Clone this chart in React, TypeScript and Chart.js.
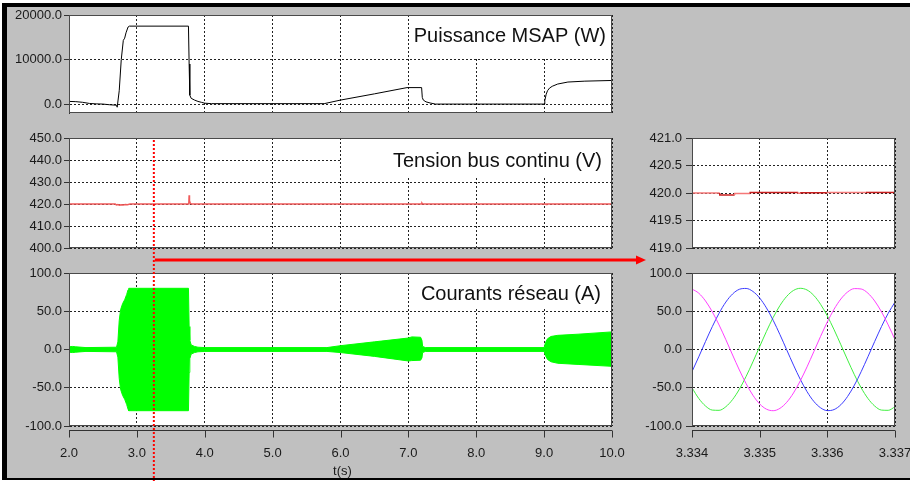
import React, { useEffect, useRef } from 'react';
import { Chart, registerables } from 'chart.js';
Chart.register(...registerables);

// ---------------- data ----------------
const timeTicks = [2, 3, 4, 5, 6, 7, 8, 9, 10];
const zoomTimeTicks = [3.334, 3.335, 3.336, 3.337];
const powerTicks = [0, 10000, 20000];
const voltTicks = [400, 410, 420, 430, 440, 450];
const voltZoomTicks = [419, 419.5, 420, 420.5, 421];
const currentTicks = [-100, -50, 0, 50, 100];

const powerT = [2.0, 2.1, 2.2, 2.3, 2.4, 2.5, 2.6, 2.7, 2.71, 2.72, 2.74, 2.77, 2.8, 2.82, 2.84, 2.87, 2.89, 3.76, 3.77, 3.78, 3.8, 3.85, 3.9, 3.95, 4.0, 4.1, 5.0, 5.76, 6.0, 6.5, 6.98, 7.195, 7.205, 7.22, 7.26, 7.32, 7.4, 8.0, 9.0, 9.01, 9.03, 9.05, 9.08, 9.12, 9.2, 9.35, 9.6, 10.0];
const powerW = [600, 550, 400, 150, 50, 0, -150, -250, -700, -700, 3000, 10000, 14300, 14800, 16000, 17300, 17500, 17500, 9000, 2000, 1300, 900, 600, 400, 200, 100, 100, 100, 900, 2300, 3700, 3700, 1500, 900, 500, 250, 0, 0, 0, 800, 2200, 3000, 3600, 4000, 4500, 4950, 5150, 5300];

const voltT = [2.0, 2.68, 2.7, 2.72, 2.74, 2.78, 2.8, 2.83, 2.86, 2.9, 3.765, 3.77, 3.775, 3.785, 3.8, 7.19, 7.2, 7.21, 9.02, 9.03, 9.04, 10.0];
const voltV = [420, 420, 419.6, 419.8, 419.5, 419.7, 419.6, 419.8, 419.7, 420, 420, 424, 421.5, 420.5, 420, 420, 420.4, 420, 420, 419.8, 420, 420];

const envT = [2.0, 2.05, 2.1, 2.25, 2.7, 2.72, 2.74, 2.76, 2.79, 2.82, 2.85, 2.87, 2.88, 3.76, 3.77, 3.78, 3.8, 3.85, 3.9, 4.0, 5.8, 6.0, 6.5, 7.0, 7.05, 7.18, 7.2, 7.21, 7.25, 9.0, 9.02, 9.05, 9.1, 9.2, 9.5, 10.0];
const envHigh = [3.5, 4, 3.5, 2.5, 3, 10, 38, 52, 60, 65, 72, 78, 80, 80, 30, 12, 6, 4, 3, 2.5, 2.5, 5, 10, 15, 16.5, 16, 12, 4, 2.5, 2.5, 9, 14, 17, 18.5, 20, 23];
const envLow = [-3.5, -4, -3.5, -2.5, -3, -10, -38, -52, -60, -65, -72, -78, -80, -80, -30, -12, -6, -4, -3, -2.5, -2.5, -4, -9, -15, -14.5, -14, -11, -4, -2.5, -2.5, -8, -13, -16, -18, -19.5, -22];

const voltZoomT = [3.334, 3.33441, 3.33463, 3.33486, 3.33557, 3.33561, 3.336, 3.33657, 3.337];
const voltZoomV = [419.98, 420.0, 419.965, 419.99, 420.01, 419.995, 420.005, 420.01, 420.01];

const sineT = [3.334, 3.3341, 3.3342, 3.3343, 3.3344, 3.3345, 3.3346, 3.3347, 3.3348, 3.3349, 3.335, 3.3351, 3.3352, 3.3353, 3.3354, 3.3355, 3.3356, 3.3357, 3.3358, 3.3359, 3.336, 3.3361, 3.3362, 3.3363, 3.3364, 3.3365, 3.3366, 3.3367, 3.3368, 3.3369, 3.337];
const phaseMagenta = [79.1, 73.6, 63.4, 49.3, 32.1, 12.9, -7.2, -26.8, -44.7, -59.8, -71.1, -78.0, -80.0, -76.9, -69.0, -56.8, -41.0, -22.7, -2.9, 17.1, 36.0, 52.7, 66.0, 75.2, 79.6, 79.1, 73.6, 63.4, 49.3, 32.1, 12.9];
const phaseBlue = [-29.0, -9.5, 10.5, 29.9, 47.4, 62.0, 72.6, 78.7, 79.8, 75.9, 67.3, 54.4, 38.1, 19.4, -0.5, -20.4, -39.0, -55.1, -67.8, -76.2, -79.9, -78.5, -72.2, -61.3, -46.6, -29.0, -9.5, 10.5, 29.9, 47.4, 62.0];
const phaseGreen = [-50.1, -64.0, -73.9, -79.2, -79.5, -74.8, -65.4, -51.9, -35.1, -16.2, 3.8, 23.6, 41.9, 57.5, 69.5, 77.2, 80.0, 77.8, 70.7, 59.1, 43.9, 25.8, 6.2, -13.8, -33.0, -50.1, -64.0, -73.9, -79.2, -79.5, -74.8];

const zoomInstant = 3.25;
const titlePower = 'Puissance MSAP (W)';
const titleVolt = 'Tension bus continu (V)';
const titleCurrent = 'Courants réseau (A)';
const timeAxisTitle = 't(s)';

// ---------------- layout ----------------
const CW = 910;
const CH = 481;
const YW = 60;
const FONT = '"Liberation Sans", Arial, Helvetica, sans-serif';

const pts = (xs: number[], ys: number[]) => xs.map((x, i) => ({ x, y: ys[i] }));

type Rect = { l: number; t: number; r: number; b: number };
type Spec = {
  box: Rect;
  xMin: number; xMax: number; xTicks: number[]; xDigits: number; showX: boolean;
  yMin: number; yMax: number; yTicks: number[]; yDigits: number; yTickLen: number; yPad: number;
  datasets: any[];
  title?: string; titleX?: number; titleY?: number; titleBox?: Rect;
  xTitle?: string;
  overlay?: boolean;
};

function makeConfig(p: Spec): any {
  const XH = p.showX ? CH - p.box.b : 0;
  const plugin = {
    id: 'panelDeco',
    beforeDraw(chart: any) {
      const { ctx, chartArea: a } = chart;
      ctx.save();
      ctx.fillStyle = '#ffffff';
      ctx.fillRect(a.left, a.top, a.right - a.left, a.bottom - a.top);
      ctx.restore();
    },
    beforeDatasetsDraw(chart: any) {
      if (!p.titleBox) return;
      const { ctx } = chart;
      const b = p.titleBox;
      ctx.save();
      ctx.fillStyle = '#ffffff';
      ctx.fillRect(b.l, b.t, b.r - b.l, b.b - b.t);
      ctx.restore();
    },
    afterDraw(chart: any) {
      const { ctx, chartArea: a } = chart;
      ctx.save();
      ctx.strokeStyle = '#4a4a4a';
      ctx.lineWidth = 1;
      ctx.strokeRect(a.left + 0.5, a.top + 0.5, a.right - a.left - 1, a.bottom - a.top - 1);
      if (p.title) {
        ctx.fillStyle = '#111';
        ctx.font = `20px ${FONT}`;
        ctx.textAlign = 'right';
        ctx.textBaseline = 'alphabetic';
        ctx.fillText(p.title, p.titleX!, p.titleY!);
      }
      if (p.showX) {
        const xs = chart.scales.x;
        const y0 = a.bottom + 4.5;
        ctx.strokeStyle = '#333';
        ctx.beginPath();
        ctx.moveTo(a.left, y0);
        ctx.lineTo(a.right, y0);
        for (const t of xs.ticks) {
          const px = Math.round(xs.getPixelForValue(t.value)) + 0.5;
          ctx.moveTo(px, y0);
          ctx.lineTo(px, y0 + 7);
        }
        ctx.stroke();
      }
      if (p.xTitle) {
        ctx.fillStyle = '#1a1a1a';
        ctx.font = `13px ${FONT}`;
        ctx.textAlign = 'center';
        ctx.textBaseline = 'alphabetic';
        ctx.fillText(p.xTitle, (a.left + a.right) / 2 + 2, 475);
      }
      if (p.overlay) {
        const x = chart.scales.x.getPixelForValue(zoomInstant);
        ctx.strokeStyle = '#ff0000';
        ctx.lineWidth = 2;
        ctx.setLineDash([2, 2]);
        ctx.beginPath();
        ctx.moveTo(x, 140);
        ctx.lineTo(x, CH);
        ctx.stroke();
        ctx.setLineDash([]);
        ctx.lineWidth = 3;
        ctx.beginPath();
        ctx.moveTo(x + 1, 260);
        ctx.lineTo(638, 260);
        ctx.stroke();
        ctx.fillStyle = '#ff0000';
        ctx.beginPath();
        ctx.moveTo(646, 260);
        ctx.lineTo(636, 255.5);
        ctx.lineTo(636, 264.5);
        ctx.closePath();
        ctx.fill();
      }
      ctx.restore();
    },
  };
  return {
    type: 'line',
    data: { datasets: p.datasets },
    plugins: [plugin],
    options: {
      responsive: false,
      animation: false,
      devicePixelRatio: 1,
      events: [],
      layout: {
        padding: { left: p.box.l - YW, top: p.box.t, right: CW - p.box.r, bottom: CH - p.box.b - XH },
      },
      plugins: { legend: { display: false }, tooltip: { enabled: false }, title: { display: false } },
      elements: { point: { radius: 0 }, line: { borderWidth: 1 } },
      scales: {
        x: {
          type: 'linear',
          min: p.xMin,
          max: p.xMax,
          afterBuildTicks: (s: any) => { s.ticks = p.xTicks.map((v) => ({ value: v })); },
          afterFit: (s: any) => { s.height = XH; s.paddingLeft = 0; s.paddingRight = 0; },
          grid: { color: '#222', lineWidth: 1, drawTicks: false },
          border: { display: false, dash: [2, 2] },
          ticks: {
            display: p.showX,
            padding: 20,
            autoSkip: false,
            maxRotation: 0,
            color: '#1a1a1a',
            font: { family: FONT, size: 13 },
            callback: (v: any) => Number(v).toFixed(p.xDigits),
          },
        },
        y: {
          type: 'linear',
          min: p.yMin,
          max: p.yMax,
          afterBuildTicks: (s: any) => { s.ticks = p.yTicks.map((v) => ({ value: v })); },
          afterFit: (s: any) => { s.width = YW; s.paddingTop = 0; s.paddingBottom = 0; },
          grid: { color: '#222', lineWidth: 1, drawTicks: true, tickLength: p.yTickLen, tickColor: '#333' },
          border: { display: true, color: '#333', dash: [2, 2] },
          ticks: {
            padding: p.yPad,
            color: '#1a1a1a',
            font: { family: FONT, size: 13 },
            callback: (v: any) => Number(v).toFixed(p.yDigits),
          },
        },
      },
    },
  };
}

const leftX = { xMin: 2, xMax: 10, xTicks: timeTicks, xDigits: 1 };
const rightX = { xMin: 3.334, xMax: 3.337, xTicks: zoomTimeTicks, xDigits: 3 };

const specs: Spec[] = [
  {
    box: { l: 69, t: 15, r: 612, b: 113 }, ...leftX, showX: false,
    yMin: -2000, yMax: 20000, yTicks: powerTicks, yDigits: 1, yTickLen: 5, yPad: 2,
    datasets: [{ data: pts(powerT, powerW), borderColor: '#000', borderWidth: 1, pointRadius: 0 }],
    title: titlePower, titleX: 606, titleY: 42, titleBox: { l: 410, t: 16, r: 611, b: 57 },
  },
  {
    box: { l: 69, t: 138, r: 612, b: 248 }, ...leftX, showX: false,
    yMin: 400, yMax: 450, yTicks: voltTicks, yDigits: 1, yTickLen: 5, yPad: 2,
    datasets: [{ data: pts(voltT, voltV), borderColor: 'rgb(240,90,90)', borderWidth: 1.5, pointRadius: 0 }],
    title: titleVolt, titleX: 602, titleY: 167, titleBox: { l: 342, t: 139, r: 611, b: 177 },
  },
  {
    box: { l: 692, t: 138, r: 895, b: 248 }, ...rightX, showX: false,
    yMin: 419, yMax: 421, yTicks: voltZoomTicks, yDigits: 1, yTickLen: 6, yPad: 4,
    datasets: [{
      data: pts(voltZoomT, voltZoomV), borderWidth: 1.5, pointRadius: 0, stepped: 'after',
      borderColor: 'rgb(235,100,100)',
      segment: { borderColor: (c: any) => (c.p0DataIndex % 2 === 0 ? 'rgb(245,120,120)' : 'rgb(200,30,30)') },
    }],
  },
  {
    box: { l: 692, t: 273, r: 895, b: 426 }, ...rightX, showX: true,
    yMin: -100, yMax: 100, yTicks: currentTicks, yDigits: 1, yTickLen: 6, yPad: 4,
    datasets: [
      { data: pts(sineT, phaseMagenta), borderColor: '#ff40ff', borderWidth: 1, pointRadius: 0, cubicInterpolationMode: 'monotone' },
      { data: pts(sineT, phaseBlue), borderColor: '#3c3cff', borderWidth: 1, pointRadius: 0, cubicInterpolationMode: 'monotone' },
      { data: pts(sineT, phaseGreen), borderColor: '#40f040', borderWidth: 1, pointRadius: 0, cubicInterpolationMode: 'monotone' },
    ],
  },
  {
    box: { l: 69, t: 273, r: 612, b: 426 }, ...leftX, showX: true,
    yMin: -100, yMax: 100, yTicks: currentTicks, yDigits: 1, yTickLen: 5, yPad: 2,
    datasets: [
      { data: pts(envT, envHigh), borderColor: '#00ff00', backgroundColor: '#00ff00', borderWidth: 1, pointRadius: 0, fill: '+1' },
      { data: pts(envT, envLow), borderColor: '#00ff00', backgroundColor: '#00ff00', borderWidth: 1, pointRadius: 0, fill: false },
    ],
    title: titleCurrent, titleX: 601, titleY: 300, titleBox: { l: 412, t: 274, r: 611, b: 309 },
    xTitle: timeAxisTitle,
    overlay: true,
  },
];

export default function App() {
  const refs = useRef<(HTMLCanvasElement | null)[]>([]);
  useEffect(() => {
    const charts = specs.map((s, i) => new Chart(refs.current[i] as HTMLCanvasElement, makeConfig(s)));
    return () => charts.forEach((c) => c.destroy());
  }, []);
  return (
    <div style={{ position: 'fixed', left: 0, top: 0, width: CW, height: CH, background: '#fff', overflow: 'hidden' }}>
      <div style={{ position: 'absolute', left: 2, top: 3, width: CW - 2, height: 477, background: '#000' }} />
      <div style={{ position: 'absolute', left: 7, top: 7, width: CW - 7, height: 471, background: '#c0c0c0' }} />
      {specs.map((_, i) => (
        <canvas
          key={i}
          ref={(el) => { refs.current[i] = el; }}
          width={CW}
          height={CH}
          style={{ position: 'absolute', left: 0, top: 0, width: CW, height: CH, display: 'block' }}
        />
      ))}
    </div>
  );
}
